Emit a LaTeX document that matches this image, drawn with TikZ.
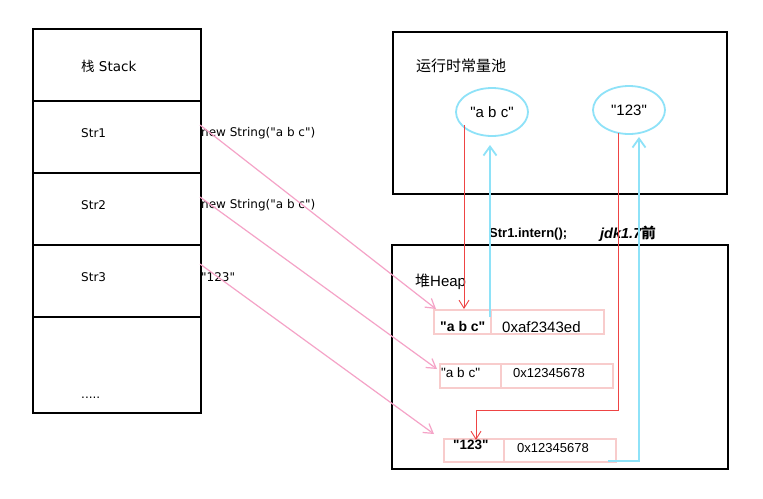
\documentclass[tikz,border=0pt]{standalone}
\usepackage{fontspec}
\setmainfont{Liberation Sans}[Ligatures=TeXOff]
\newfontfamily\dejavu{DejaVu Sans}[Ligatures=TeXOff]
\newfontfamily\cjk{Noto Sans CJK SC}
\usetikzlibrary{arrows.meta,shapes.geometric}
\definecolor{pinkln}{HTML}{F5A3C7}
\definecolor{redln}{HTML}{EE4444}
\definecolor{cyanln}{HTML}{8EE2F8}
\definecolor{cellpink}{HTML}{F8CCCC}
\tikzset{
  box/.style={draw=black,line width=1.6pt},
  lbl/.style={anchor=west,inner sep=0pt,font=\dejavu\fontsize{12}{14}\selectfont},
  big/.style={anchor=west,inner sep=0pt,font=\fontsize{15}{17}\selectfont},
  cell/.style={draw=cellpink,line width=1pt},
  pool/.style={draw=cyanln,line width=1.8pt,ellipse,minimum width=72pt,minimum height=48pt,inner sep=0pt,font=\fontsize{15}{17}\selectfont},
  pinkarr/.style={draw=pinkln,line width=1.2pt,-{Straight Barb[length=9pt,width=11pt,line width=1.2pt]}},
  redarr/.style={draw=redln,line width=0.9pt,-{Straight Barb[length=8pt,width=10pt,line width=0.9pt]}},
  cyanarr/.style={draw=cyanln,line width=1.8pt,-{Straight Barb[length=9pt,width=13pt,line width=1.8pt]}},
}
\begin{document}
\begin{tikzpicture}[x=1pt,y=-1pt]
\useasboundingbox[fill=white] (0,0) rectangle (763,498);
% stack
\draw[box] (33,29) rectangle (201,413);
\draw[box] (33,101) -- (201,101);
\draw[box] (33,173) -- (201,173);
\draw[box] (33,245) -- (201,245);
\draw[box] (33,317) -- (201,317);
\node[lbl,font=\dejavu\fontsize{13.5}{15}\selectfont] (stk) at (81,66) {{\cjk 栈} Stack};
\node[lbl] (s1) at (81,133) {Str1};
\node[lbl] (s2) at (81,205) {Str2};
\node[lbl] (s3) at (81,277) {Str3};
\node[lbl] (dots) at (81,398) {.....};
\node[lbl] (n1) at (201,133) {new String("a b c")};
\node[lbl] (n2) at (201,205) {new String("a b c")};
\node[lbl] (n3) at (201,277) {"123"};
% pool
\draw[box] (393,32) rectangle (727,194);
\node[big] (pooltitle) at (416,66) {\cjk 运行时常量池};
\node[pool] (e1) at (492,112) {"a b c"};
\node[pool] (e2) at (629,110) {"123"};
% heap
\draw[box] (392,245) rectangle (728,469);
\node[big] (heaptitle) at (415,282) {{\cjk 堆}Heap};
\node[anchor=west,inner sep=0pt,font=\fontsize{13}{15}\selectfont\bfseries] (intern) at (489,234) {Str1.intern();};
\node[anchor=west,inner sep=0pt,font=\fontsize{14.5}{16}\selectfont\bfseries\itshape] (jdk) at (600,234) {jdk1.7{\cjk\bfseries 前}};
% heap rows
\draw[cell] (433,309) rectangle (604,334);
\draw[cell] (434,310) rectangle (603,333);
\draw[cell] (490,309) -- (490,334);
\draw[cell] (491,309) -- (491,334);
\draw[cell] (439,363) rectangle (613,388);
\draw[cell] (440,364) rectangle (612,387);
\draw[cell] (500,363) -- (500,388);
\draw[cell] (501,363) -- (501,388);
\draw[cell] (443,438) rectangle (616,462);
\draw[cell] (444,439) rectangle (615,461);
\draw[cell] (503,438) -- (503,462);
\draw[cell] (504,438) -- (504,462);
\node[anchor=west,inner sep=0pt,font=\fontsize{14}{16}\selectfont\bfseries] (r1a) at (440,326) {"a b c"};
\node[big,anchor=west] (r1b) at (502,327) {0xaf2343ed};
\node[anchor=west,inner sep=0pt,font=\fontsize{13.5}{15}\selectfont] (r2a) at (441,373) {"a b c"};
\node[anchor=west,inner sep=0pt,font=\fontsize{13}{15}\selectfont] (r2b) at (513,373) {0x12345678};
\node[anchor=west,inner sep=0pt,font=\fontsize{13.5}{15}\selectfont\bfseries] (r3a) at (453,445) {"123"};
\node[anchor=west,inner sep=0pt,font=\fontsize{13}{15}\selectfont] (r3b) at (517,448) {0x12345678};
% coordinates
\coordinate (p1s) at (200,125);
\coordinate (p1e) at (436,309);
\coordinate (p2s) at (200,197);
\coordinate (p2e) at (437,369);
\coordinate (p3s) at (200,264);
\coordinate (p3e) at (434,434);
\coordinate (r1s) at (464,125);
\coordinate (r1e) at (464,309);
\coordinate (c1s) at (490,317);
\coordinate (c1e) at (490,145);
\coordinate (r2s) at (618,133);
\coordinate (r2m) at (618,410);
\coordinate (r2n) at (476,410);
\coordinate (r2e) at (476,440);
\coordinate (c2s) at (608,461);
\coordinate (c2m) at (639,461);
\coordinate (c2e) at (639,137);
% connectors
\draw[pinkarr] (p1s) -- (p1e);
\draw[pinkarr] (p2s) -- (p2e);
\draw[pinkarr] (p3s) -- (p3e);
\draw[redarr] (r1s) -- (r1e);
\draw[cyanarr] (c1s) -- (c1e);
\draw[redarr] (r2s) -- (r2m) -- (r2n) -- (r2e);
\draw[cyanarr] (c2s) -- (c2m) -- (c2e);
\end{tikzpicture}
\end{document}
